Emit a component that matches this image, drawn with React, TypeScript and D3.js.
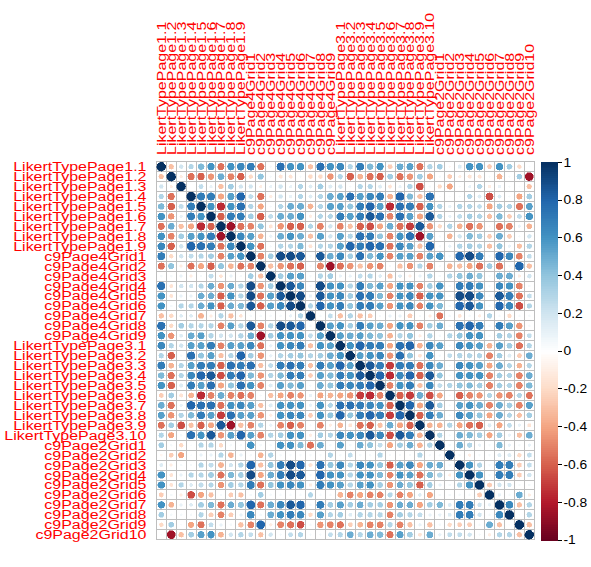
import React from 'react';
import * as d3 from 'd3';

const likert1 = d3.range(1, 10).map(i => `LikertTypePage1.${i}`);
const grid4 = d3.range(1, 10).map(i => `c9Page4Grid${i}`);
const likert3 = d3.range(1, 11).map(i => `LikertTypePage3.${i}`);
const grid2 = d3.range(1, 11).map(i => `c9Page2Grid${i}`);
const labels = [...likert1, ...grid4, ...likert3, ...grid2];

// upper triangle, row i holds columns i+1 .. 37
const upper: number[][] = [
  [-0.3, 0.2, 0.3, 0.45, 0.6, -0.55, 0.6, 0.65, 0.7, -0.55, 0.05, 0.75, 0.6, 0.6, -0.3, 0.75, 0.6, 0.65, 0.3, 0.7, 0.45, 0.6, -0.25, 0.5, 0.55, -0.55, 0.3, 0.35, -0.05, 0.15, 0.6, 0.6, -0.25, 0.6, 0.35, -0.2, 0.03],
  [-0.1, -0.55, -0.6, -0.45, 0.5, -0.5, -0.6, -0.2, 0.4, 0.05, -0.15, -0.15, 0.05, -0.2, -0.2, -0.45, 0.3, -0.6, -0.35, -0.55, -0.6, 0.35, -0.55, -0.45, 0.35, -0.4, 0.05, -0.25, -0.1, -0.15, -0.15, 0.05, -0.35, 0.05, 0.35, -0.85],
  [0, 0.25, 0.1, -0.3, 0.35, 0.2, 0.2, -0.1, 0.1, 0.2, 0.1, 0.3, 0.15, 0.35, 0.15, 0.2, 0.05, 0.3, 0.3, 0.15, -0.15, 0.1, 0.3, -0.65, 0.05, -0.2, -0.4, 0.05, 0.1, 0.3, -0.1, 0.1, 0.05, 0.03, -0.3],
  [0.7, 0.7, -0.4, 0.55, 0.8, 0.25, -0.55, -0.1, 0.2, 0.1, 0.3, 0.15, 0.3, 0.5, 0.55, 0.75, 0.55, 0.65, 0.7, -0.35, 0.8, 0.45, -0.3, 0.75, 0.03, 0.03, 0.05, 0.3, 0.15, -0.65, 0.15, 0.05, -0.4, 0.35],
  [0.6, -0.75, 0.6, 0.75, 0.3, -0.4, 0.05, 0.3, 0.5, 0.5, -0.35, 0.3, 0.55, 0.55, 0.4, 0.7, 0.8, 0.55, -0.75, 0.75, 0.7, -0.6, 0.6, 0.3, 0.1, 0.3, 0.3, 0.25, -0.4, 0.35, 0.3, -0.55, 0.55],
  [-0.6, 0.7, 0.7, 0.35, -0.6, 0.25, 0.5, 0.5, 0.6, -0.1, 0.3, 0.3, 0.7, 0.55, 0.7, 0.85, 0.75, -0.5, 0.75, 0.55, -0.4, 0.85, 0.3, 0.1, 0.25, 0.35, 0.3, -0.3, 0.45, -0.25, 0.25, 0.6],
  [-0.85, -0.55, -0.5, 0.4, -0.15, -0.45, -0.6, -0.6, 0.3, -0.5, 0.2, -0.5, -0.3, -0.6, -0.65, -0.4, 0.5, -0.55, -0.7, 0.85, -0.45, -0.2, 0.3, -0.35, -0.55, -0.45, 0.05, -0.55, -0.5, 0.1, -0.35],
  [0.65, 0.55, -0.35, 0.1, 0.5, 0.6, 0.5, -0.3, 0.55, 0.2, 0.55, 0.3, 0.75, 0.7, 0.4, -0.5, 0.6, 0.75, -0.85, 0.55, 0.05, -0.35, 0.2, 0.45, 0.35, -0.25, 0.5, -0.25, 0.05, 0.2],
  [0.6, -0.55, 0.05, 0.3, 0.3, 0.45, -0.15, 0.3, 0.3, 0.55, 0.8, 0.7, 0.8, 0.75, -0.55, 0.65, 0.55, -0.3, 0.8, 0.05, 0.1, 0.3, 0.35, 0.3, -0.3, 0.4, 0.1, -0.3, 0.3],
  [-0.5, 0.35, 0.9, 0.9, 0.85, 0.05, 0.85, 0.5, 0.65, 0.35, 0.75, 0.45, 0.6, -0.5, 0.55, 0.55, -0.5, 0.55, 0.6, 0.05, 0.8, 0.9, 0.7, 0.05, 0.8, 0.65, -0.5, 0.25],
  [-0.3, -0.45, -0.55, -0.6, 0.05, -0.5, -0.85, -0.55, -0.45, -0.3, -0.45, -0.5, 0.05, -0.3, -0.45, 0.3, -0.5, 0.05, -0.35, -0.3, -0.4, -0.55, 0.35, -0.55, 0.05, 0.8, -0.3],
  [0.35, 0.55, 0.55, 0.05, 0.3, 0.35, 0.1, 0.1, 0.25, 0.3, 0.15, -0.3, 0.15, -0.1, 0.1, 0.3, 0.05, 0.3, 0.4, 0.5, 0.4, 0.05, 0.5, 0.5, -0.1, 0.2],
  [0.85, 0.65, 0.05, 0.9, 0.6, 0.6, 0.3, 0.7, 0.45, 0.55, -0.4, 0.6, 0.6, -0.5, 0.35, 0.6, 0.05, 0.7, 0.7, 0.6, 0.05, 0.65, 0.6, -0.5, 0.05],
  [0.9, 0.1, 0.85, 0.6, 0.65, 0.35, 0.75, 0.7, 0.45, -0.5, 0.6, 0.65, -0.6, 0.6, 0.6, 0.05, 0.9, 0.9, 0.65, 0.05, 0.85, 0.7, -0.55, 0.25],
  [0.3, 0.8, 0.6, 0.7, 0.4, 0.7, 0.7, 0.55, -0.45, 0.6, 0.65, -0.5, 0.6, 0.45, 0.05, 0.8, 0.85, 0.6, 0.05, 0.8, 0.65, -0.65, 0.3],
  [0.05, 0.25, -0.3, 0.3, -0.3, -0.25, 0.05, 0.1, 0.1, -0.25, 0.05, -0.1, -0.55, 0.05, -0.15, 0.05, -0.1, 0.3, 0.05, -0.2, 0.05, 0.05],
  [0.55, 0.6, 0.35, 0.7, 0.55, 0.5, -0.4, 0.6, 0.6, -0.5, 0.35, 0.5, 0.05, 0.75, 0.8, 0.7, 0.05, 0.7, 0.55, -0.45, 0.05],
  [0.55, 0.5, 0.55, 0.45, 0.4, -0.35, 0.3, 0.4, -0.1, 0.3, 0.05, 0.3, 0.4, 0.6, 0.6, 0.05, 0.35, 0.3, -0.5, 0.25],
  [0.6, 0.8, 0.7, 0.7, -0.4, 0.75, 0.8, -0.35, 0.65, 0.55, 0.05, 0.65, 0.6, 0.55, -0.35, 0.55, 0.35, -0.55, 0.3],
  [0.55, 0.6, 0.65, -0.45, 0.75, 0.4, -0.15, 0.6, 0.05, 0.25, 0.3, 0.3, 0.3, -0.5, 0.35, 0.15, -0.25, 0.5],
  [0.85, 0.7, -0.7, 0.7, 0.7, -0.55, 0.65, 0.5, 0.05, 0.65, 0.6, 0.55, -0.4, 0.5, 0.3, -0.35, 0.3],
  [0.8, -0.75, 0.65, 0.8, -0.6, 0.85, 0.4, 0.05, 0.6, 0.6, 0.6, -0.5, 0.35, 0.3, -0.5, 0.5],
  [-0.5, 0.6, 0.7, -0.3, 0.65, 0.25, 0.3, 0.4, 0.45, 0.35, -0.5, 0.35, 0.3, -0.5, 0.45],
  [-0.6, -0.7, 0.5, -0.65, -0.4, 0.05, -0.6, -0.5, -0.45, 0.3, -0.45, -0.5, 0.3, -0.55],
  [0.8, -0.4, 0.85, 0.35, 0.05, 0.55, 0.6, 0.5, -0.5, 0.5, 0.35, -0.5, 0.55],
  [-0.6, 0.7, 0.5, 0.05, 0.65, 0.55, 0.4, -0.4, 0.5, 0.3, -0.3, 0.35],
  [-0.35, -0.35, 0.3, -0.4, -0.55, -0.6, 0.15, -0.4, 0.25, 0.1, -0.15],
  [0.3, 0.05, 0.5, 0.45, 0.35, -0.4, 0.35, 0.1, -0.3, 0.5],
  [0.05, 0.5, 0.3, 0.1, 0.05, 0.45, 0.1, 0.05, 0.1],
  [0.05, -0.1, 0.05, 0.05, 0.15, 0.15, -0.2, 0.25],
  [0.6, 0.3, 0.05, 0.7, 0.7, -0.25, 0.25],
  [0.6, 0.05, 0.7, 0.7, -0.25, 0.2],
  [-0.25, 0.2, 0.2, 0.05, 0.05],
  [0.1, 0.05, 0.5, -0.1],
  [0.65, -0.3, 0.3],
  [0.02, 0.3],
  [-0.3],
];

const legendTicks = [1, 0.8, 0.6, 0.4, 0.2, 0, -0.2, -0.4, -0.6, -0.8, -1];
const palette = ['#67001F', '#B2182B', '#D6604D', '#F4A582', '#FDDBC7', '#FFFFFF', '#D1E5F0', '#92C5DE', '#4393C3', '#2166AC', '#053061'];

const W = 591;
const H = 567;

const corrAt = (i: number, j: number) => {
  if (i === j) return 1;
  return i < j ? upper[i][j - i - 1] : upper[j][i - j - 1];
};

export default function App() {
  const x = d3.scaleBand<string>().domain(labels).range([156.3, 534.3]);
  const y = d3.scaleBand<string>().domain(labels).range([161.7, 539.7]);
  const cell = x.bandwidth();
  const color = d3.scaleLinear<string>()
    .domain(d3.range(11).map(k => -1 + k * 0.2))
    .range(palette)
    .interpolate(d3.interpolateRgb);
  const bar = d3.scaleLinear().domain([-1, 1]).range([540, 162.3]);
  const steps = d3.range(200).map(k => -1 + (k + 0.5) * 0.01);

  const cells = labels.flatMap((rl, i) => labels.map((cl, j) => ({ i, j, rl, cl, v: corrAt(i, j) })));
  const font = "'Liberation Sans', Arial, sans-serif";

  return (
    <svg width={W} height={H} viewBox={`0 0 ${W} ${H}`} style={{ position: 'absolute', left: 0, top: 0, background: '#fff' }}>
      <rect width={W} height={H} fill="#fff" />
      <g shapeRendering="crispEdges">
        {cells.map(d => (
          <rect key={`r${d.i}-${d.j}`} x={x(d.cl)} y={y(d.rl)} width={cell} height={cell} fill="#fff" stroke="#BEBEBE" strokeWidth={1} />
        ))}
      </g>
      <g shapeRendering="crispEdges">
        {cells.map(d => (
          <circle key={`c${d.i}-${d.j}`}
            cx={(x(d.cl) ?? 0) + cell / 2}
            cy={(y(d.rl) ?? 0) + cell / 2}
            r={0.45 * Math.sqrt(Math.abs(d.v)) * cell}
            fill={color(d.v)} stroke={color(d.v)} strokeWidth={0.5} />
        ))}
      </g>
      <g fill="#FF0000" fontFamily={font} fontSize={12.5}>
        {labels.map(l => (
          <text key={`rowl-${l}`} textAnchor="end"
            transform={`translate(146.5,${(y(l) ?? 0) + cell / 2 + 4.5}) scale(1.28,1)`}>{l}</text>
        ))}
        {labels.map(l => (
          <text key={`coll-${l}`} textAnchor="start"
            transform={`translate(${(x(l) ?? 0) + cell / 2 + 4.5},155) rotate(-90) scale(1.28,1)`}>{l}</text>
        ))}
      </g>
      <g shapeRendering="crispEdges">
        {steps.map(s => (
          <rect key={`b${s}`} x={541} width={17} y={bar(s + 0.005)} height={bar(s - 0.005) - bar(s + 0.005) + 0.5} fill={color(s)} />
        ))}
        {legendTicks.map(t => (
          <line key={`t${t}`} x1={558} x2={562} y1={bar(t)} y2={bar(t)} stroke="#000" strokeWidth={1} />
        ))}
      </g>
      <g fontFamily={font} fontSize={12} fill="#000">
        {legendTicks.map(t => (
          <text key={`tl${t}`} transform={`translate(563.5,${bar(t) + 4.3}) scale(1.15,1)`}>{t === 0 ? '0' : String(t)}</text>
        ))}
      </g>
    </svg>
  );
}
